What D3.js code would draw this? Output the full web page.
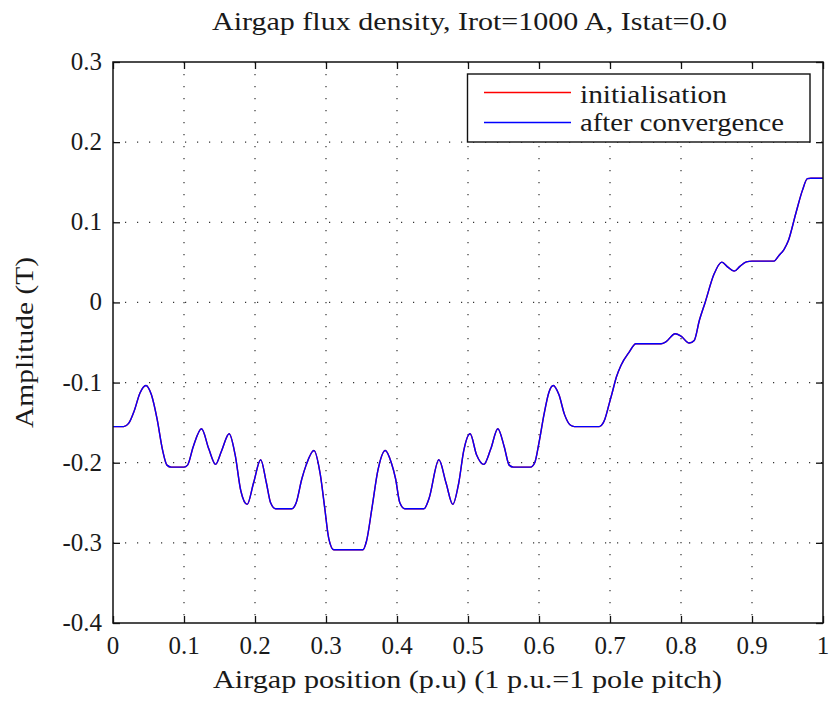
<!DOCTYPE html>
<html><head><meta charset="utf-8">
<script src="https://cdn.jsdelivr.net/npm/d3@7"></script>
<style>body{margin:0;background:#fff}svg{display:block}</style>
</head><body>
<svg id="c" width="830" height="704"></svg>
<script>
const title = "Airgap flux density, Irot=1000 A, Istat=0.0";
const xLabel = "Airgap position (p.u) (1 p.u.=1 pole pitch)";
const yLabel = "Amplitude (T)";
const xTicks = [0,0.1,0.2,0.3,0.4,0.5,0.6,0.7,0.8,0.9,1];
const xTickLabels = ["0","0.1","0.2","0.3","0.4","0.5","0.6","0.7","0.8","0.9","1"];
const yTicks = [0.3,0.2,0.1,0,-0.1,-0.2,-0.3,-0.4];
const yTickLabels = ["0.3","0.2","0.1","0","-0.1","-0.2","-0.3","-0.4"];
const seriesNames = ["initialisation","after convergence"];
const seriesColors = ["#ff0000","#0000ff"];
const position = [0,0.015,0.022,0.03,0.038,0.0464,0.054,0.062,0.07,0.076,0.082,0.1,0.105,0.113,0.1247,0.135,0.1444,0.153,0.1636,0.172,0.18,0.189,0.198,0.208,0.216,0.222,0.229,0.252,0.258,0.266,0.272,0.283,0.292,0.298,0.304,0.311,0.352,0.357,0.365,0.373,0.3835,0.392,0.398,0.404,0.411,0.438,0.445,0.459,0.469,0.4786,0.487,0.494,0.503,0.512,0.5223,0.532,0.542,0.551,0.558,0.564,0.588,0.594,0.6,0.607,0.614,0.62,0.628,0.636,0.644,0.65,0.685,0.69,0.693,0.699,0.703,0.709,0.7154,0.727,0.7365,0.772,0.779,0.7918,0.8,0.8115,0.8186,0.826,0.834,0.8467,0.8575,0.866,0.8748,0.883,0.892,0.9,0.931,0.938,0.945,0.951,0.9616,0.971,0.978,0.983,1.0];
const initialisation = [-0.155,-0.155,-0.151,-0.135,-0.113,-0.1036,-0.115,-0.145,-0.185,-0.203,-0.2055,-0.2055,-0.203,-0.180,-0.1576,-0.183,-0.2021,-0.185,-0.1639,-0.19,-0.235,-0.252,-0.225,-0.1963,-0.225,-0.250,-0.2574,-0.2574,-0.250,-0.22,-0.203,-0.1847,-0.215,-0.255,-0.295,-0.3086,-0.3086,-0.298,-0.255,-0.21,-0.1847,-0.2,-0.22,-0.25,-0.2574,-0.2574,-0.245,-0.1963,-0.225,-0.252,-0.225,-0.185,-0.1639,-0.19,-0.2021,-0.183,-0.1576,-0.180,-0.203,-0.2055,-0.2055,-0.2,-0.175,-0.14,-0.112,-0.1036,-0.115,-0.14,-0.153,-0.155,-0.155,-0.151,-0.145,-0.126,-0.113,-0.093,-0.0786,-0.062,-0.0516,-0.0516,-0.049,-0.039,-0.042,-0.0507,-0.0474,-0.022,0.0,0.0357,0.0503,0.044,0.039,0.045,0.0505,0.0516,0.0516,0.0586,0.066,0.0765,0.1107,0.1398,0.1544,0.155,0.155];
const afterConvergence = initialisation.slice();

const FONT = "'Liberation Serif', 'DejaVu Serif', serif";
const svg = d3.select("#c");
const m = {l:113, r:823, t:62, b:623};
const x = d3.scaleLinear().domain([0,1]).range([m.l,m.r]);
const y = d3.scaleLinear().domain([-0.4,0.3]).range([m.b,m.t]);

function label(px, py, str, size, anchor, width, rot) {
  const t = svg.append("text")
    .attr("transform", `translate(${px},${py})` + (rot ? ` rotate(${rot})` : ""))
    .attr("text-anchor", anchor)
    .style("font-family", FONT).style("font-size", size + "px").style("fill", "#1a1a1a")
    .text(str);
  if (width) t.attr("textLength", width).attr("lengthAdjust", "spacingAndGlyphs");
  return t;
}

// grid
const gridStyle = s => s.attr("stroke","#333").attr("stroke-width",1.2).attr("stroke-dasharray","1.2,10.8");
svg.append("g").selectAll("line").data(xTicks.slice(1,-1)).join("line")
  .attr("x1",d=>x(d)).attr("x2",d=>x(d)).attr("y1",m.t).attr("y2",m.b).call(gridStyle);
svg.append("g").selectAll("line").data(yTicks.slice(1,-1)).join("line")
  .attr("y1",d=>y(d)).attr("y2",d=>y(d)).attr("x1",m.l).attr("x2",m.r).call(gridStyle);

// axes with inward ticks (labels drawn separately)
const tl = 7;
svg.append("g").attr("transform",`translate(0,${m.b})`)
  .call(d3.axisBottom(x).tickValues(xTicks).tickSize(-tl).tickFormat(""));
svg.append("g").attr("transform",`translate(0,${m.t})`)
  .call(d3.axisTop(x).tickValues(xTicks).tickSize(-tl).tickFormat(""));
svg.append("g").attr("transform",`translate(${m.l},0)`)
  .call(d3.axisLeft(y).tickValues(yTicks).tickSize(-tl).tickFormat(""));
svg.append("g").attr("transform",`translate(${m.r},0)`)
  .call(d3.axisRight(y).tickValues(yTicks).tickSize(-tl).tickFormat(""));
svg.selectAll(".domain").remove();
svg.selectAll(".tick line").attr("stroke","#111").attr("stroke-width",1.3);

xTicks.forEach((v,i)=>label(x(v), 654, xTickLabels[i], 25, "middle"));
yTicks.forEach((v,i)=>label(102, y(v)+8, yTickLabels[i], 25, "end"));

// lines
const line = d3.line().x((d,i)=>x(position[i])).y(d=>y(d)).curve(d3.curveMonotoneX);
svg.append("path").datum(initialisation).attr("d",line).attr("fill","none").attr("stroke",seriesColors[0]).attr("stroke-width",1.4);
svg.append("path").datum(afterConvergence).attr("d",line).attr("fill","none").attr("stroke",seriesColors[1]).attr("stroke-width",1.4);

// frame
svg.append("rect").attr("x",m.l).attr("y",m.t).attr("width",m.r-m.l).attr("height",m.b-m.t)
  .attr("fill","none").attr("stroke","#111").attr("stroke-width",1.5);

// legend
svg.append("rect").attr("x",467.5).attr("y",74).attr("width",342.5).attr("height",68)
  .attr("fill","#fff").attr("stroke","#111").attr("stroke-width",1.4);
const legendWidths = [147, 204];
seriesNames.forEach((n,i)=>{
  const yy = 92.5 + i*30;
  svg.append("line").attr("x1",484).attr("x2",571).attr("y1",yy).attr("y2",yy)
    .attr("stroke",seriesColors[i]).attr("stroke-width",1.4);
  label(580, yy + 10.5 - i*2, n, 26, "start", legendWidths[i]);
});

// titles
label(469.5, 30, title, 26, "middle", 515);
label(467.5, 688, xLabel, 26, "middle", 509);
label(33, 342.5, yLabel, 26, "middle", 171, -90);
</script>
</body></html>
